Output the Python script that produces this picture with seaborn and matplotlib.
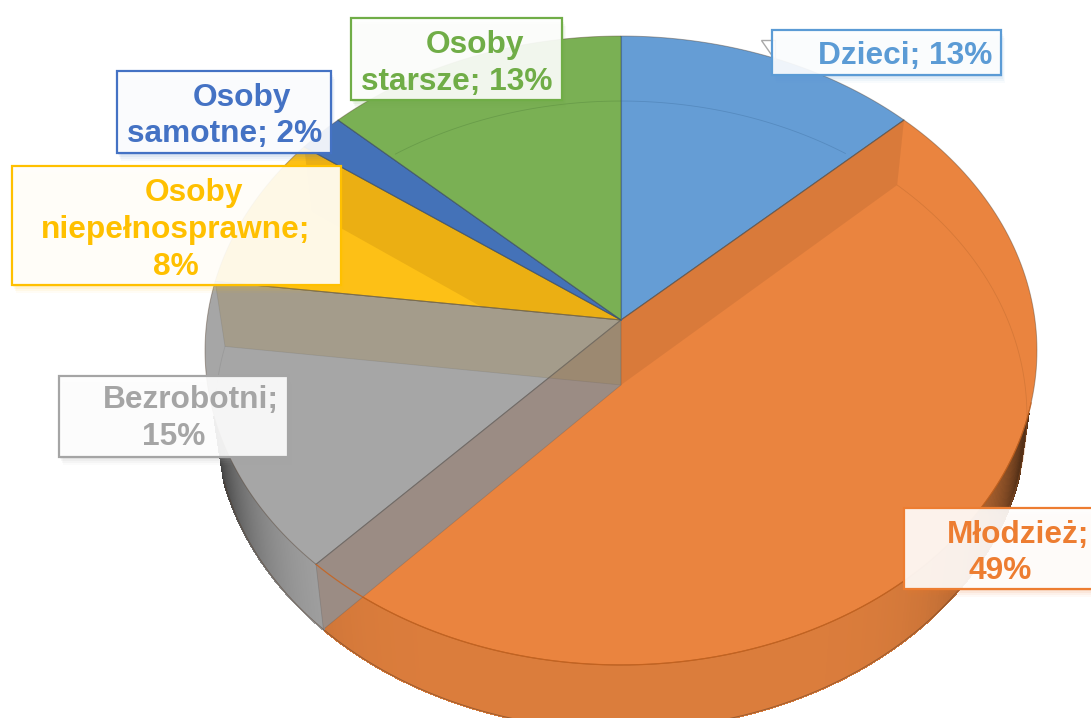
import numpy as np
import matplotlib
matplotlib.use("Agg")
import matplotlib.pyplot as plt
import seaborn as sns
from matplotlib.collections import PolyCollection
from matplotlib.patches import Polygon, Rectangle
from matplotlib.path import Path
from matplotlib.transforms import Transform

categories = ["Dzieci", "Młodzież", "Bezrobotni", "Osoby niepełnosprawne", "Osoby samotne", "Osoby starsze"]
values = [13, 49, 15, 8, 2, 13]

face_colors = ["#659DD5", "#EA843F", "#A6A6A6", "#FDC016", "#4472B8", "#7AB054"]
text_colors = ["#5B9BD5", "#ED7D31", "#A5A5A5", "#FFC000", "#4472C4", "#70AD47"]
rim_colors = {1: (0.86, 0.49, 0.235), 2: (0.66, 0.66, 0.66)}

label_lines = [
    ["Dzieci; 13%"],
    ["Młodzież;", "49%"],
    ["Bezrobotni;", "15%"],
    ["Osoby", "niepełnosprawne;", "8%"],
    ["Osoby", "samotne; 2%"],
    ["Osoby", "starsze; 13%"],
]

# layout of the label boxes in pixels: left, top, right, bottom, then (center x, mid y) per line
label_boxes = [
    (772, 30, 1001, 75, [(905, 56)]),
    (904, 508, 1100, 589, [(1018, 535), (1000, 571)]),
    (59, 376, 288, 457, [(191, 400), (174, 437)]),
    (12, 166, 341, 285, [(194, 193), (176, 230), (176, 267)]),
    (117, 71, 331, 153, [(242, 98), (225, 134)]),
    (351, 18, 562, 100, [(475, 45), (457, 82)]),
]


class Tilt(Transform):
    # projects the unit circle of the pie onto the tilted disc, in pixels
    input_dims = 2
    output_dims = 2
    is_separable = False
    has_inverse = False

    def __init__(self, cy=320.0, a=414.0, b=311.5, k=0.097):
        super().__init__()
        self.cy, self.a, self.b, self.k = cy, a, b, k

    def transform_non_affine(self, values):
        pts = np.asarray(values, dtype=float)
        d = 1 + self.k * pts[:, 1]
        return np.column_stack([621 + self.a * pts[:, 0] / d, self.cy - self.b * pts[:, 1] / d])

    def transform_path_non_affine(self, path):
        parts = [curve(np.linspace(0, 1, 40)) for curve, code in path.iter_bezier()]
        return Path(self.transform_non_affine(np.vstack(parts)))


def ring(theta):
    t = np.radians(theta)
    return np.column_stack([np.cos(t), np.sin(t)])


def cut_wall(theta):
    # side wall of a cut between two slices, from the top disc down to the lower one
    c = np.array([[0.0, 0.0]])
    e = ring(np.array([theta]))
    top_pts = top.transform_non_affine(np.vstack([c, e]))
    low_pts = low.transform_non_affine(np.vstack([e, c]))
    return np.vstack([top_pts, low_pts])


sns.set_theme(style="white")
plt.rcParams["font.family"] = ["Liberation Sans", "DejaVu Sans"]

top = Tilt()
low = Tilt(cy=385.0, a=404.0)

fig = plt.figure(figsize=(10.91, 7.18), dpi=100)
ax = fig.add_axes([0, 0, 1, 1])

wedges, _ = ax.pie(values, colors=sns.color_palette(face_colors), startangle=90, counterclock=False,
                   wedgeprops={"edgecolor": (0.3, 0.22, 0.15, 0.4), "linewidth": 0.7})
ax.set_aspect("auto")
ax.set_xlim(0, 1091)
ax.set_ylim(718, 0)
ax.axis("off")

for w in wedges:
    w.set_transform(top + ax.transData)
    w.set_zorder(3)

# shaded front side of the disc, darker towards both ends
for i, base in rim_colors.items():
    th = np.linspace(wedges[i].theta1, wedges[i].theta2, 300)
    pts = ring(th)
    t_pts = top.transform_non_affine(pts)
    l_pts = low.transform_non_affine(pts)
    quads, cols = [], []
    for j in range(len(th) - 1):
        if pts[j, 1] > -0.3:
            continue
        quads.append([t_pts[j], t_pts[j + 1], l_pts[j + 1], l_pts[j]])
        dark = 1 - 0.85 * abs(pts[j, 0]) ** 7
        cols.append((base[0] * dark, base[1] * dark, base[2] * dark))
    ax.add_collection(PolyCollection(quads, facecolors=cols, edgecolors=cols, linewidths=1.0,
                                     antialiaseds=False, zorder=2))
    keep = pts[:, 1] < -0.3
    ax.plot(l_pts[keep, 0], l_pts[keep, 1], color=(0.3, 0.2, 0.12), lw=0.7, alpha=0.45, zorder=2.5)

# cut walls between the slices
cuts = 90 - np.cumsum(values) * 3.6
ax.add_patch(Polygon(cut_wall(cuts[0]), fc=(0, 0, 0, 0.07), ec="none", zorder=4))
band = Polygon(cut_wall(cuts[3]), fc=(0.3, 0.1, 0, 0.10), ec="none", zorder=4)
ax.add_patch(band)
band.set_clip_path(wedges[3])
ax.add_patch(Polygon(cut_wall(cuts[1]), fc="#9B8C84", ec=(0.3, 0.3, 0.3, 0.25), lw=0.6, zorder=4))
ax.add_patch(Polygon(cut_wall(cuts[2]), fc=(0.63, 0.51, 0.235, 0.25), ec=(0.3, 0.3, 0.3, 0.15), lw=0.6, zorder=4.1))

# redraw the slice borders over the walls
for theta, col in [(cuts[0], "#555555"), (cuts[1], "#666666"), (cuts[2], "#6E6650"),
                   (cuts[3], "#335577"), (cuts[4], "#335577"), (90, "#3F6F9F")]:
    seg = top.transform_non_affine(np.vstack([[0, 0], ring(np.array([theta]))]))
    ax.plot(seg[:, 0], seg[:, 1], color=col, lw=0.8, alpha=0.6, zorder=4.5)

# faint arcs of the lower disc seen through the top face, and the front edge of the top disc
for start, stop, col in [(cuts[0] + 10, 90, "#3F6F9F"), (90, 90 + 37, "#4F7F3A"),
                         (cuts[0], cuts[0] - 80, "#B8682E"), (cuts[2], cuts[2] + 12, "#888888")]:
    p = low.transform_non_affine(ring(np.linspace(start, stop, 120)))
    ax.plot(p[:, 0], p[:, 1], color=col, lw=0.6, alpha=0.4, zorder=4.5)
p = top.transform_non_affine(ring(np.linspace(cuts[1], -15, 300)))
ax.plot(p[:, 0], p[:, 1], color="#C8621C", lw=0.9, alpha=0.85, zorder=4.6)

# small leader tip behind the Dzieci label
ax.add_patch(Polygon([(761, 40), (775, 40), (775, 60)], fc="white", ec="#A9A9A9", lw=1.0, zorder=5))

for lines, box, col in zip(label_lines, label_boxes, text_colors):
    x0, y0, x1, y1, spots = box
    for off, alpha in [(8, 0.04), (6, 0.06), (4, 0.08), (2, 0.1)]:
        ax.add_patch(Rectangle((x0 + off * 0.5, y0 + off), x1 - x0, y1 - y0, fc=col, ec="none", alpha=alpha, zorder=6))
    ax.add_patch(Rectangle((x0, y0), x1 - x0, y1 - y0, fc=(1, 1, 1, 0.9), ec=col, lw=1.6, zorder=7))
    for line, (cx, cy) in zip(lines, spots):
        ax.text(cx, cy, line, color=col, fontsize=22.8, fontweight="bold", ha="center", va="center", zorder=8)

fig.savefig("out.png", dpi=100)
plt.close(fig)
